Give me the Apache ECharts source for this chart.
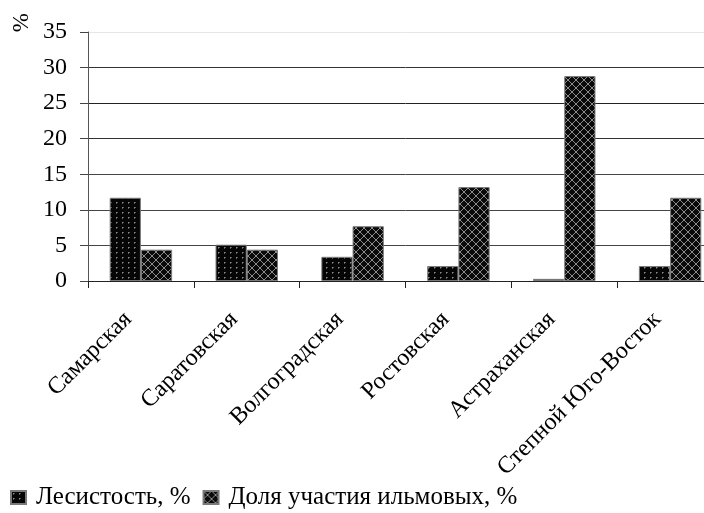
<!DOCTYPE html>
<html>
<head>
<meta charset="utf-8">
<script src="https://cdn.jsdelivr.net/npm/echarts@6/dist/echarts.min.js"></script>
<style>html,body{margin:0;padding:0;background:#fff;overflow:hidden;width:704px;height:513px}#c{width:723px;height:513px}</style>
</head>
<body>
<div id="c"></div>
<script>
const categories = ['Самарская', 'Саратовская', 'Волгоградская', 'Ростовская', 'Астраханская', 'Степной Юго-Восток'];
const forestCover = [11.7, 5.1, 3.4, 2.1, 0.3, 2.1];
const elmShare = [4.4, 4.4, 7.7, 13.2, 28.8, 11.7];
const seriesNames = ['Лесистость, %', 'Доля участия ильмовых, %'];
const yTicks = [0, 5, 10, 15, 20, 25, 30, 35];

function makeDots() {
  const c = document.createElement('canvas');
  c.width = 6; c.height = 5;
  const g = c.getContext('2d');
  g.fillStyle = '#050505'; g.fillRect(0, 0, 6, 5);
  g.fillStyle = '#8a8a8a'; g.fillRect(2, 2, 1, 1);
  g.fillStyle = '#555'; g.fillRect(3, 2, 1, 1); g.fillRect(2, 3, 1, 1);
  return c;
}
function makeCross() {
  const c = document.createElement('canvas');
  c.width = 8; c.height = 8;
  const g = c.getContext('2d');
  g.fillStyle = '#0a0a0a'; g.fillRect(0, 0, 8, 8);
  g.strokeStyle = '#8c8c8c'; g.lineWidth = 1;
  g.beginPath();
  g.moveTo(0, 0); g.lineTo(8, 8);
  g.moveTo(8, 0); g.lineTo(0, 8);
  g.stroke();
  return c;
}
const dotFill = { image: makeDots(), repeat: 'repeat' };
const crossFill = { image: makeCross(), repeat: 'repeat' };

const font = '"Liberation Serif", "Times New Roman", serif';
const chart = echarts.init(document.getElementById('c'), null, { renderer: 'canvas' });
chart.setOption({
  animation: false,
  backgroundColor: '#fff',
  grid: { left: 88, top: 32, right: 0, bottom: 232, containLabel: false },
  legend: {
    left: 10, top: 485, padding: 0, icon: 'rect',
    itemWidth: 15, itemHeight: 13, itemGap: 12,
    textStyle: { fontFamily: font, fontSize: 25, color: '#000', padding: [0, 0, 0, 5] },
    data: seriesNames
  },
  graphic: [{
    type: 'text', left: 10, top: 13, rotation: Math.PI / 2,
    style: { text: '%', fontFamily: font, fontSize: 23, fill: '#000' }
  }],
  xAxis: {
    type: 'category', data: categories,
    axisLine: { lineStyle: { color: '#222', width: 1 } },
    axisTick: { show: true, length: 7, lineStyle: { color: '#222' } },
    axisLabel: { interval: 0, rotate: 45, margin: 22, padding: [0, 18, 0, 0], fontFamily: font, fontSize: 24, color: '#000' }
  },
  yAxis: {
    type: 'value', min: yTicks[0], max: yTicks[yTicks.length - 1], interval: 5,
    axisLine: { show: true, lineStyle: { color: '#555' } },
    axisTick: { show: true, length: 8, lineStyle: { color: '#444' } },
    axisLabel: { margin: 21, fontFamily: font, fontSize: 24, color: '#000' },
    splitLine: { show: true, lineStyle: { color: ['#222', '#444', '#444', '#444', '#333', '#222', '#333', '#e6e6e6'], width: 1 } }
  },
  series: [
    { name: seriesNames[0], type: 'bar', data: forestCover, barGap: '0%', barCategoryGap: '41%',
      itemStyle: { color: dotFill, borderColor: '#7a7a7a', borderWidth: 1 } },
    { name: seriesNames[1], type: 'bar', data: elmShare, barGap: '0%', barCategoryGap: '41%',
      itemStyle: { color: crossFill, borderColor: '#7a7a7a', borderWidth: 1 } }
  ]
});
</script>
</body>
</html>
